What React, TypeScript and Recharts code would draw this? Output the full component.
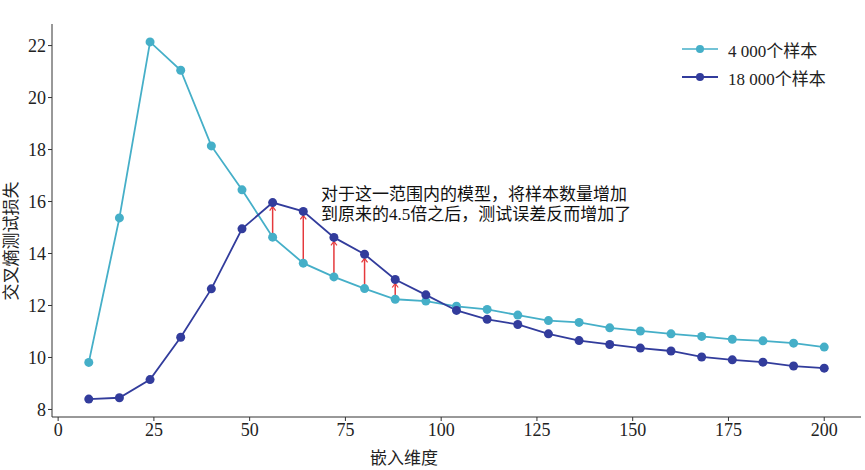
import React from "react";
import { LineChart, Line, XAxis, YAxis, ReferenceLine } from "recharts";

const dims = [8, 16, 24, 32, 40, 48, 56, 64, 72, 80, 88, 96, 104, 112, 120, 128, 136, 144, 152, 160, 168, 176, 184, 192, 200];
const loss4000 = [9.81, 15.37, 22.14, 21.05, 18.14, 16.45, 14.63, 13.63, 13.1, 12.65, 12.24, 12.17, 11.97, 11.85, 11.63, 11.42, 11.35, 11.14, 11.02, 10.91, 10.81, 10.7, 10.64, 10.55, 10.4];
const loss18000 = [8.4, 8.45, 9.15, 10.78, 12.64, 14.95, 15.96, 15.62, 14.62, 13.97, 13.0, 12.41, 11.81, 11.47, 11.27, 10.91, 10.65, 10.5, 10.36, 10.25, 10.02, 9.91, 9.82, 9.67, 9.59];
const xTicks = [0, 25, 50, 75, 100, 125, 150, 175, 200];
const yTicks = [8, 10, 12, 14, 16, 18, 20, 22];
const arrowDims = [56, 64, 72, 80, 88];
const seriesNames = ["4 000个样本", "18 000个样本"];
const seriesColors = ["#45afc8", "#323c9c"];
const xLabel = "嵌入维度";
const yLabel = "交叉熵测试损失";
const noteLines = ["对于这一范围内的模型，将样本数量增加", "到原来的4.5倍之后，测试误差反而增加了"];

const data = dims.map((d, i) => ({ dim: d, a: loss4000[i], b: loss18000[i] }));

const FONT = "'Liberation Serif', 'Noto Sans CJK SC', serif";
const ARROW = "#e5393c";

const Arrow = (p: any) => {
  const { x1, y1, x2, y2 } = p;
  if (x1 == null || y1 == null || y2 == null) return null;
  const base = y1 - 4;
  const tip = y2 + 4;
  return (
    <g>
      <line x1={x1} y1={base} x2={x2} y2={tip} stroke={ARROW} strokeWidth={1.5} />
      <polyline points={`${x1 - 3},${tip + 4} ${x1},${tip} ${x1 + 3},${tip + 4}`} fill="none" stroke={ARROW} strokeWidth={1.2} />
    </g>
  );
};

const tickStyle = { fontFamily: FONT, fontSize: 18, fill: "#222" };

export default function App() {
  return (
    <div style={{ position: "absolute", left: 0, top: 0, width: 865, height: 470, background: "#fff" }}>
      <LineChart width={865} height={470} data={data} margin={{ top: 24, right: 4, left: 12, bottom: 23 }}>
        <XAxis
          dataKey="dim"
          type="number"
          domain={[-1.6, 209.6]}
          ticks={xTicks}
          allowDataOverflow
          height={30}
          tickSize={4}
          tick={tickStyle}
          stroke="#333"
          tickLine={{ stroke: "#333" }}
          axisLine={{ stroke: "#333" }}
          label={() => (
            <text x={404} y={458} textAnchor="middle" dominantBaseline="central" style={{ fontFamily: FONT, fontSize: 17, fill: "#222" }}>
              {xLabel}
            </text>
          )}
        />
        <XAxis xAxisId="top" orientation="top" type="number" dataKey="dim" domain={[-1.6, 209.6]} allowDataOverflow height={0} tick={false} tickLine={false} axisLine={{ stroke: "#999" }} />
        <YAxis
          type="number"
          domain={[7.71, 22.83]}
          ticks={yTicks}
          allowDataOverflow
          width={40}
          tickSize={4}
          tick={tickStyle}
          stroke="#333"
          tickLine={{ stroke: "#333" }}
          axisLine={{ stroke: "#333" }}
          label={() => (
            <text x={11} y={241} transform="rotate(-90 11 241)" textAnchor="middle" dominantBaseline="central" style={{ fontFamily: FONT, fontSize: 17, fill: "#222" }}>
              {yLabel}
            </text>
          )}
        />
        <YAxis yAxisId="right" orientation="right" type="number" domain={[7.71, 22.83]} allowDataOverflow width={0} tick={false} tickLine={false} axisLine={{ stroke: "#999" }} />
        {arrowDims.map((d) => {
          const i = dims.indexOf(d);
          return (
            <ReferenceLine
              key={d}
              segment={[
                { x: d, y: loss4000[i] },
                { x: d, y: loss18000[i] },
              ]}
              shape={Arrow}
              ifOverflow="visible"
            />
          );
        })}
        <Line
          dataKey="a"
          name={seriesNames[0]}
          stroke={seriesColors[0]}
          strokeWidth={1.8}
          dot={{ r: 4.5, fill: seriesColors[0], stroke: "none" }}
          isAnimationActive={false}
        />
        <Line
          dataKey="b"
          name={seriesNames[1]}
          stroke={seriesColors[1]}
          strokeWidth={1.8}
          dot={{ r: 4.5, fill: seriesColors[1], stroke: "none" }}
          isAnimationActive={false}
        />
      </LineChart>
      <div style={{ position: "absolute", left: 682, top: 35, fontFamily: FONT, fontSize: 17, color: "#222" }}>
        {seriesNames.map((n, i) => (
          <div key={n} style={{ display: "flex", alignItems: "center", height: 28 }}>
            <svg width={36} height={12} style={{ marginRight: 10 }}>
              <line x1={0} y1={6} x2={36} y2={6} stroke={seriesColors[i]} strokeWidth={i === 0 ? 1.5 : 2} />
              <circle cx={18} cy={6} r={4} fill={seriesColors[i]} />
            </svg>
            <span>{n}</span>
          </div>
        ))}
      </div>
      <div style={{ position: "absolute", left: 321, top: 185, fontFamily: FONT, fontSize: 17, color: "#111", lineHeight: "19.5px", whiteSpace: "nowrap" }}>
        {noteLines.map((l) => (
          <div key={l}>{l}</div>
        ))}
      </div>
    </div>
  );
}
